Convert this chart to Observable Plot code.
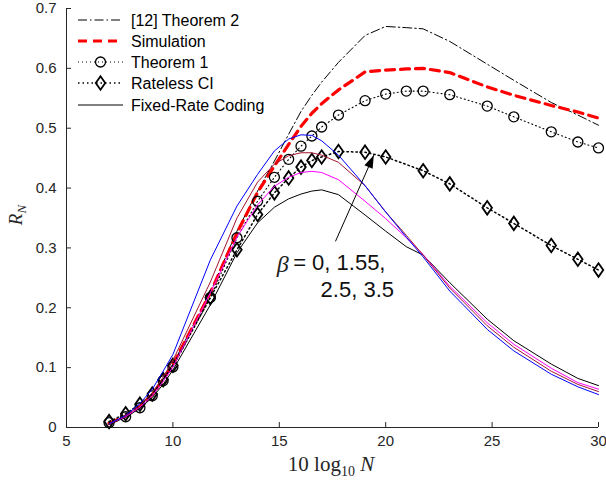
<!DOCTYPE html>
<html><head><meta charset="utf-8">
<script src="https://cdn.jsdelivr.net/npm/d3@7"></script>
<script src="https://cdn.jsdelivr.net/npm/@observablehq/plot@0.6"></script>
<style>
body{margin:0;background:#fff;}
#wrap{position:relative;width:606px;height:482px;}
</style></head><body><div id="wrap"></div>
<script>
// ---- data ----
const xN = [7, 7.78, 8.45, 9.03, 9.54, 10, 11.76, 13.01, 13.98, 14.77, 15.44, 16.02, 16.53, 16.99, 17.78, 19.03, 20, 20.97, 21.76, 23.01, 24.77, 26.02, 27.78, 29.03, 30];
const theorem2 = [0.008, 0.02, 0.036, 0.056, 0.081, 0.106, 0.226, 0.328, 0.395, 0.445, 0.49, 0.528, 0.555, 0.577, 0.61, 0.655, 0.67, 0.668, 0.666, 0.645, 0.607, 0.58, 0.543, 0.522, 0.505];
const simulation = [0.007, 0.019, 0.035, 0.055, 0.08, 0.105, 0.225, 0.325, 0.393, 0.437, 0.473, 0.503, 0.525, 0.541, 0.564, 0.594, 0.597, 0.599, 0.6, 0.593, 0.569, 0.555, 0.538, 0.527, 0.517];
const theorem1 = [0.008, 0.018, 0.033, 0.053, 0.078, 0.101, 0.217, 0.317, 0.378, 0.418, 0.448, 0.47, 0.487, 0.502, 0.522, 0.546, 0.557, 0.562, 0.562, 0.556, 0.537, 0.519, 0.494, 0.477, 0.467];
const ratelessX = [7, 7.78, 8.45, 9.03, 9.54, 10, 11.76, 13.01, 13.98, 14.77, 15.44, 16.02, 16.53, 16.99, 17.78, 19.03, 20, 21.76, 23.01, 24.77, 26.02, 27.78, 29.03, 30];
const rateless = [0.01, 0.023, 0.039, 0.056, 0.08, 0.104, 0.217, 0.297, 0.356, 0.392, 0.417, 0.435, 0.446, 0.452, 0.461, 0.46, 0.452, 0.429, 0.407, 0.367, 0.341, 0.304, 0.281, 0.263];
const fixedBeta0 = [0.005, 0.017, 0.032, 0.05, 0.072, 0.096, 0.205, 0.292, 0.342, 0.368, 0.382, 0.39, 0.395, 0.397, 0.389, 0.355, 0.328, 0.302, 0.288, 0.242, 0.181, 0.145, 0.106, 0.082, 0.07];
const fixedBeta155 = [0.006, 0.018, 0.034, 0.053, 0.077, 0.101, 0.225, 0.318, 0.372, 0.403, 0.418, 0.426, 0.428, 0.426, 0.414, 0.378, 0.349, 0.317, 0.289, 0.236, 0.175, 0.139, 0.099, 0.075, 0.064];
const fixedBeta25 = [0.006, 0.019, 0.037, 0.058, 0.084, 0.112, 0.243, 0.35, 0.41, 0.44, 0.454, 0.459, 0.459, 0.455, 0.443, 0.404, 0.36, 0.321, 0.288, 0.233, 0.17, 0.134, 0.094, 0.072, 0.06];
const fixedBeta35 = [0.006, 0.02, 0.04, 0.064, 0.094, 0.122, 0.28, 0.37, 0.423, 0.462, 0.482, 0.489, 0.488, 0.479, 0.455, 0.404, 0.36, 0.318, 0.285, 0.228, 0.164, 0.128, 0.089, 0.068, 0.055];
const xTicks = [5, 10, 15, 20, 25, 30];
const yTicks = [0, 0.1, 0.2, 0.3, 0.4, 0.5, 0.6, 0.7];
const yTickLabels = ["0", "0.1", "0.2", "0.3", "0.4", "0.5", "0.6", "0.7"];
const legendLabels = ["[12] Theorem 2", "Simulation", "Theorem 1", "Rateless CI", "Fixed-Rate Coding"];
const arrowFrom = [17.64, 0.311];
const arrowTo = [19.44, 0.455];
const betaLine1 = "= 0, 1.55,";
const betaLine2 = "2.5, 3.5";
const betaPos1 = [14.88, 0.272];
const betaEqPos = [15.65, 0.275];
const betaPos2 = [16.94, 0.229];

// ---- layout ----
const W = 606, H = 482, mL = 66, mR = 8, mT = 8, mB = 55;
const plotW = W - mL - mR, plotH = H - mT - mB;
const axisColor = "#262626";
const rows = (xs, ys) => xs.map((x, i) => ({x, y: ys[i]}));

const diamond = {draw(ctx, size) { const r = Math.sqrt(size / Math.PI);
  ctx.moveTo(0, -1.35 * r); ctx.lineTo(0.95 * r, 0); ctx.lineTo(0, 1.35 * r); ctx.lineTo(-0.95 * r, 0); ctx.closePath(); }};
const head = {draw(ctx, size) { const r = Math.sqrt(size / Math.PI);
  ctx.moveTo(0, 0); ctx.lineTo(0.9 * r, 2.6 * r); ctx.lineTo(-0.9 * r, 2.6 * r); ctx.closePath(); }};

const sx = d3.scaleLinear([5, 30], [mL, W - mR]);
const sy = d3.scaleLinear([0, 0.7], [H - mB, mT]);
const headAngle = Math.atan2(sx(arrowTo[0]) - sx(arrowFrom[0]), sy(arrowFrom[1]) - sy(arrowTo[1])) * 180 / Math.PI;

const fixedSeries = [
  {ys: fixedBeta0, color: "#000000"},
  {ys: fixedBeta155, color: "#ff00ff"},
  {ys: fixedBeta25, color: "#a2142f"},
  {ys: fixedBeta35, color: "#0000ff"}
];

const chart = Plot.plot({
  width: W, height: H,
  marginLeft: mL, marginRight: mR, marginTop: mT, marginBottom: mB,
  style: {fontFamily: "'Liberation Sans', Arial, sans-serif", fontSize: "15px", background: "white", color: axisColor, overflow: "visible"},
  x: {domain: [5, 30]},
  y: {domain: [0, 0.7]},
  marks: [
    Plot.axisX({ticks: xTicks, tickSize: 0, tickPadding: 8, label: null, fontSize: 15, fill: axisColor}),
    Plot.axisY({ticks: yTicks, tickSize: 0, tickPadding: 10, label: null, fontSize: 15, fill: axisColor,
      tickFormat: d => yTickLabels[yTicks.indexOf(d)]}),
    Plot.tickY(yTicks, {y: d => d, insetRight: plotW - 5, stroke: axisColor}),
    Plot.tickX(xTicks, {x: d => d, insetTop: plotH - 5, stroke: axisColor}),
    Plot.ruleX([5], {stroke: axisColor}),
    Plot.ruleY([0], {stroke: axisColor}),
    Plot.line(rows(xN, theorem2), {x: "x", y: "y", stroke: "black", strokeWidth: 1, strokeDasharray: "9,3,1.5,3"}),
    Plot.line(rows(xN, simulation), {x: "x", y: "y", stroke: "#ff0000", strokeWidth: 3.2, strokeDasharray: "9,6"}),
    Plot.line(rows(xN, theorem1), {x: "x", y: "y", stroke: "black", strokeWidth: 1.1, strokeDasharray: "1,3"}),
    Plot.dot(rows(xN, theorem1), {x: "x", y: "y", r: 5, stroke: "black", strokeWidth: 1.3, fill: "none"}),
    Plot.line(rows(ratelessX, rateless), {x: "x", y: "y", stroke: "black", strokeWidth: 1.5, strokeDasharray: "1.5,3"}),
    Plot.dot(rows(ratelessX, rateless), {x: "x", y: "y", r: 5, symbol: diamond, stroke: "black", strokeWidth: 1.8, fill: "none"}),
    ...fixedSeries.map(s => Plot.line(rows(xN, s.ys), {x: "x", y: "y", stroke: s.color, strokeWidth: 1})),
    Plot.link([{x1: arrowFrom[0], y1: arrowFrom[1], x2: arrowTo[0], y2: arrowTo[1]}], {x1: "x1", y1: "y1", x2: "x2", y2: "y2", stroke: "black", strokeWidth: 1}),
    Plot.dot([arrowTo], {x: d => d[0], y: d => d[1], symbol: head, r: 5, fill: "black", stroke: "none", rotate: headAngle}),
    Plot.text([betaPos1], {x: d => d[0], y: d => d[1], text: () => "β", fontSize: 24, fontStyle: "italic", fontFamily: "'Liberation Serif', serif", textAnchor: "start", fill: "#222"}),
    Plot.text([betaEqPos], {x: d => d[0], y: d => d[1], text: () => betaLine1, fontSize: 22, textAnchor: "start", fill: "#111"}),
    Plot.text([betaPos2], {x: d => d[0], y: d => d[1], text: () => betaLine2, fontSize: 22, textAnchor: "start", fill: "#111"})
  ]
});

document.getElementById("wrap").appendChild(chart);
const svg = d3.select(chart);

// y label  R_N
const yl = svg.append("text").attr("transform", "translate(22,215) rotate(-90)")
  .attr("text-anchor", "middle").attr("font-family", "'Liberation Serif', serif").attr("fill", axisColor);
yl.append("tspan").attr("font-size", 19).attr("font-style", "italic").text("R");
yl.append("tspan").attr("font-size", 13).attr("font-style", "italic").attr("dy", 4).text("N");

// x label 10 log10 N
const xl = svg.append("text").attr("x", 331).attr("y", 471).attr("text-anchor", "middle")
  .attr("font-family", "'Liberation Serif', serif").attr("fill", axisColor).attr("font-size", 21);
xl.append("tspan").text("10 log");
xl.append("tspan").attr("font-size", 14).attr("dy", 5).text("10");
xl.append("tspan").attr("dy", -5).attr("font-style", "italic").text(" N");

// legend
const leg = d3.select("#wrap").append("svg").attr("width", 320).attr("height", 120)
  .style("position", "absolute").style("left", "0px").style("top", "0px").style("overflow", "visible");
const ry = [20, 41, 62, 83, 105];
const lx1 = 78, lx2 = 123, lxm = 100.5, tx = 131;
const styles = [
  {stroke: "black", w: 1, dash: "9,3,1.5,3"},
  {stroke: "#ff0000", w: 3.2, dash: "9,6"},
  {stroke: "black", w: 1.1, dash: "1,3", marker: "circle"},
  {stroke: "black", w: 1.5, dash: "1.5,3", marker: "diamond"},
  {stroke: "black", w: 1, dash: null}
];
legendLabels.forEach((lab, i) => {
  const st = styles[i];
  leg.append("line").attr("x1", lx1).attr("x2", lx2).attr("y1", ry[i]).attr("y2", ry[i])
    .attr("stroke", st.stroke).attr("stroke-width", st.w).attr("stroke-dasharray", st.dash);
  if (st.marker === "circle") leg.append("circle").attr("cx", lxm).attr("cy", ry[i]).attr("r", 5).attr("fill", "none").attr("stroke", "black").attr("stroke-width", 1.3);
  if (st.marker === "diamond") leg.append("path").attr("transform", `translate(${lxm},${ry[i]})`)
    .attr("d", d3.symbol(diamond, 25 * Math.PI)()).attr("fill", "none").attr("stroke", "black").attr("stroke-width", 1.8);
  leg.append("text").attr("x", tx).attr("y", ry[i]).attr("dy", "0.35em").attr("font-family", "'Liberation Sans', Arial, sans-serif")
    .attr("font-size", 16).attr("fill", "#000").text(lab);
});
</script></body></html>
